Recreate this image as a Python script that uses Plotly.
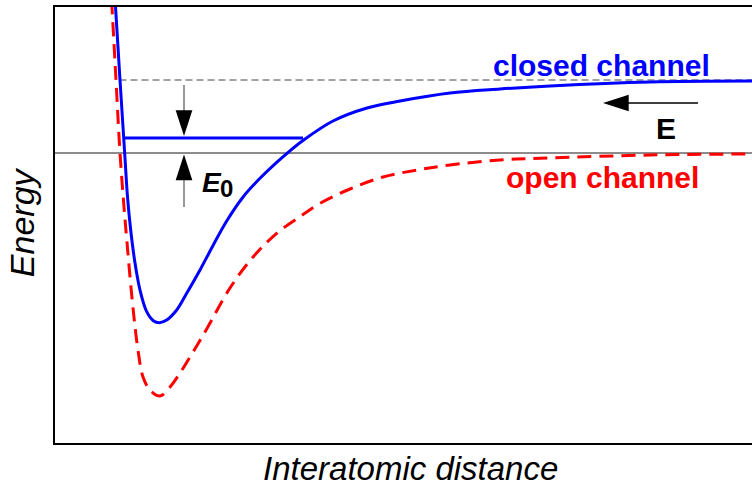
import plotly.graph_objects as go

# ---- data (arbitrary units: distance, energy) ----
closed_x = [0.601, 0.65, 0.682, 0.703, 0.725, 0.757, 0.80, 0.85, 0.917, 0.983, 1.043, 1.117,
            1.217, 1.317, 1.45, 1.583, 1.717, 1.883, 2.05, 2.217, 2.317, 2.483, 2.78, 3.12,
            3.45, 3.95, 4.45, 4.95, 5.95, 6.97]
closed_y = [1.53, 0.73, 0.23, -0.10, -0.44, -0.77, -1.10, -1.37, -1.587, -1.677, -1.697,
            -1.67, -1.57, -1.403, -1.17, -0.92, -0.68, -0.437, -0.253, -0.094, -0.006, 0.127,
            0.32, 0.45, 0.52, 0.60, 0.64, 0.67, 0.71, 0.72]

open_x = [0.566, 0.61, 0.65, 0.69, 0.718, 0.775, 0.83, 0.88, 0.95, 1.05, 1.15, 1.25, 1.38,
          1.517, 1.75, 1.983, 2.217, 2.45, 2.65, 2.95, 3.28, 3.62, 3.95, 4.45, 4.95,
          5.95, 6.97]
open_y = [1.53, 0.73, 0.00, -0.54, -0.87, -1.50, -1.97, -2.24, -2.37, -2.43, -2.34, -2.20,
          -1.99, -1.76, -1.35, -1.037, -0.803, -0.637, -0.503, -0.36, -0.24, -0.17,
          -0.12, -0.07, -0.05, -0.02, -0.01]

open_threshold = 0.0
closed_threshold = 0.73
bound_state = 0.15
bound_x = [0.68, 2.48]
threshold_x = [0.0, 6.97]
closed_thr_x = [0.645, 6.97]

# arrows: (shaft start, tip)
e0_x = 1.29
e0_top_shaft = [0.68, 0.20]
e0_top_tip = 0.17
e0_bot_shaft = [-0.54, -0.10]
e0_bot_tip = -0.015
e_arrow_y = 0.50
e_arrow_shaft = [6.43, 5.70]
e_arrow_tip = 5.48

x_range = [0, 6.97]
y_range = [-2.90, 1.46]

FONT = "Liberation Sans"

fig = go.Figure()

# thresholds
fig.add_trace(go.Scatter(x=threshold_x, y=[open_threshold, open_threshold], mode="lines",
                         line=dict(color="#666666", width=1.5), hoverinfo="skip"))
fig.add_trace(go.Scatter(x=closed_thr_x, y=[closed_threshold, closed_threshold], mode="lines",
                         line=dict(color="#444444", width=1, dash="7px,4px"), hoverinfo="skip"))

# potentials
fig.add_trace(go.Scatter(x=open_x, y=open_y, mode="lines",
                         line=dict(color="#ff0000", width=3, dash="14px,8px", shape="spline",
                                   smoothing=1.0), hoverinfo="skip"))
fig.add_trace(go.Scatter(x=closed_x, y=closed_y, mode="lines",
                         line=dict(color="#0000ff", width=3, shape="spline", smoothing=1.0),
                         hoverinfo="skip"))
# bound state
fig.add_trace(go.Scatter(x=bound_x, y=[bound_state, bound_state], mode="lines",
                         line=dict(color="#0000ff", width=3), hoverinfo="skip"))

# arrow shafts
fig.add_trace(go.Scatter(x=[e0_x, e0_x], y=e0_top_shaft, mode="lines",
                         line=dict(color="#777777", width=1.5), hoverinfo="skip"))
fig.add_trace(go.Scatter(x=[e0_x, e0_x], y=e0_bot_shaft, mode="lines",
                         line=dict(color="#777777", width=1.5), hoverinfo="skip"))
fig.add_trace(go.Scatter(x=e_arrow_shaft, y=[e_arrow_y, e_arrow_y], mode="lines",
                         line=dict(color="black", width=1.5), hoverinfo="skip"))
# arrow heads (tip at marker position)
fig.add_trace(go.Scatter(x=[e0_x, e0_x, e_arrow_tip], y=[e0_top_tip, e0_bot_tip, e_arrow_y],
                         mode="markers",
                         marker=dict(symbol="arrow", size=27, angle=[180, 0, 270], color="black",
                                     line=dict(width=0)),
                         hoverinfo="skip"))

ann = [
    dict(x=5.46, y=0.88, text="<b>closed channel</b>", font=dict(color="#0000ff", size=30)),
    dict(x=5.475, y=-0.24, text="<b>open channel</b>", font=dict(color="#ff0000", size=30)),
    dict(x=6.11, y=0.245, text="<b>E</b>", font=dict(color="black", size=30)),
    dict(x=1.45, y=-0.29, text="<b><i>E</i></b>", font=dict(color="black", size=28),
         xanchor="left"),
    dict(x=1.63, y=-0.35, text="<b>0</b>", font=dict(color="black", size=24), xanchor="left"),
]
annotations = []
for a in ann:
    d = dict(xref="x", yref="y", showarrow=False, xanchor=a.get("xanchor", "center"),
             yanchor="middle")
    d.update(a)
    d["font"] = dict(family=FONT, **a["font"])
    annotations.append(d)

annotations.append(dict(xref="paper", yref="paper", x=-0.047, y=0.507, text="<i>Energy</i>",
                        textangle=-90, showarrow=False, xanchor="center", yanchor="middle",
                        font=dict(family=FONT, size=34, color="black")))
annotations.append(dict(xref="paper", yref="paper", x=0.51, y=-0.059,
                        text="<i>Interatomic distance</i>", showarrow=False,
                        xanchor="center", yanchor="middle",
                        font=dict(family=FONT, size=33, color="black")))

fig.update_layout(
    width=752, height=486,
    margin=dict(l=55, r=0, t=7, b=43),
    paper_bgcolor="white", plot_bgcolor="white",
    showlegend=False,
    annotations=annotations,
    xaxis=dict(range=x_range, showgrid=False, zeroline=False, showticklabels=False,
               ticks="", showline=True, mirror=True, linecolor="black", linewidth=1.5),
    yaxis=dict(range=y_range, showgrid=False, zeroline=False, showticklabels=False,
               ticks="", showline=True, mirror=False, linecolor="black", linewidth=1.5),
)

fig.write_html("out.html")
